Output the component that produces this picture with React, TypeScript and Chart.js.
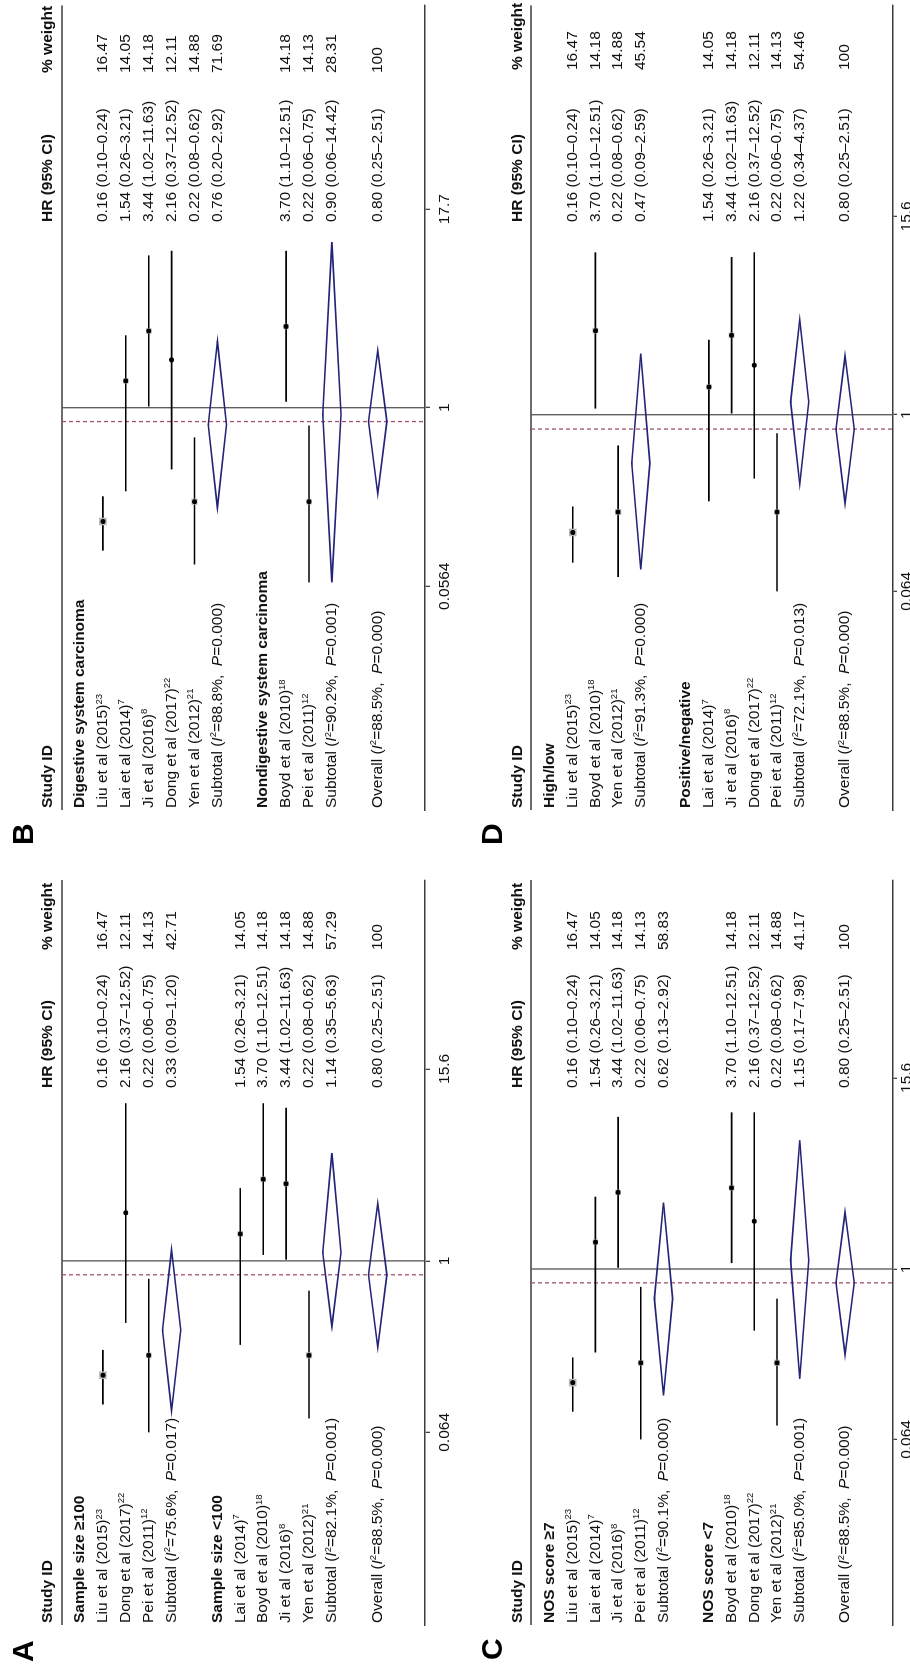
import React, { useEffect, useRef } from 'react';
import { Chart, registerables } from 'chart.js';

Chart.register(...registerables);

const FONT = '"Liberation Sans", Arial, Helvetica, sans-serif';
const FS = 15.5;
const REG = `${FS}px ${FONT}`;
const BOLD = `bold ${FS}px ${FONT}`;
const ITAL = `italic ${FS}px ${FONT}`;
const SUP = `9.5px ${FONT}`;

// ---------------- Panel A: sample size ----------------
const A_kind = ['h', 's', 's', 's', 't', 'b', 'h', 's', 's', 's', 's', 't', 'b', 'o'];
const A_label = ['Sample size ≥100', 'Liu et al (2015)', 'Dong et al (2017)', 'Pei et al (2011)', 'Subtotal', '', 'Sample size <100', 'Lai et al (2014)', 'Boyd et al (2010)', 'Ji et al (2016)', 'Yen et al (2012)', 'Subtotal', '', 'Overall'];
const A_ref = ['', '23', '22', '12', '', '', '', '7', '18', '8', '21', '', '', ''];
const A_hr = [null, 0.16, 2.16, 0.22, 0.33, null, null, 1.54, 3.70, 3.44, 0.22, 1.14, null, 0.80];
const A_lo = [null, 0.10, 0.37, 0.06, 0.09, null, null, 0.26, 1.10, 1.02, 0.08, 0.35, null, 0.25];
const A_hi = [null, 0.24, 12.52, 0.75, 1.20, null, null, 3.21, 12.51, 11.63, 0.62, 5.63, null, 2.51];
const A_wt = [null, 16.47, 12.11, 14.13, 42.71, null, null, 14.05, 14.18, 14.18, 14.88, 57.29, null, 100];
const A_i2 = [null, null, null, null, '75.6', null, null, null, null, null, null, '82.1', null, '88.5'];
const A_p = [null, null, null, null, '0.017', null, null, null, null, null, null, '0.001', null, '0.000'];
const A_tickAt = [0.064, 1, 21.7];
const A_tickLabel = ['0.064', '1', '15.6'];

// ---------------- Panel B: cancer type ----------------
const B_kind = ['h', 's', 's', 's', 's', 's', 't', 'b', 'h', 's', 's', 't', 'b', 'o'];
const B_label = ['Digestive system carcinoma', 'Liu et al (2015)', 'Lai et al (2014)', 'Ji et al (2016)', 'Dong et al (2017)', 'Yen et al (2012)', 'Subtotal', '', 'Nondigestive system carcinoma', 'Boyd et al (2010)', 'Pei et al (2011)', 'Subtotal', '', 'Overall'];
const B_ref = ['', '23', '7', '8', '22', '21', '', '', '', '18', '12', '', '', ''];
const B_hr = [null, 0.16, 1.54, 3.44, 2.16, 0.22, 0.76, null, null, 3.70, 0.22, 0.90, null, 0.80];
const B_lo = [null, 0.10, 0.26, 1.02, 0.37, 0.08, 0.20, null, null, 1.10, 0.06, 0.06, null, 0.25];
const B_hi = [null, 0.24, 3.21, 11.63, 12.52, 0.62, 2.92, null, null, 12.51, 0.75, 14.42, null, 2.51];
const B_wt = [null, 16.47, 14.05, 14.18, 12.11, 14.88, 71.69, null, null, 14.18, 14.13, 28.31, null, 100];
const B_i2 = [null, null, null, null, null, null, '88.8', null, null, null, null, '90.2', null, '88.5'];
const B_p = [null, null, null, null, null, null, '0.000', null, null, null, null, '0.001', null, '0.000'];
const B_tickAt = [0.0564, 1, 24.5];
const B_tickLabel = ['0.0564', '1', '17.7'];

// ---------------- Panel C: NOS score ----------------
const C_kind = ['h', 's', 's', 's', 's', 't', 'b', 'h', 's', 's', 's', 't', 'b', 'o'];
const C_label = ['NOS score ≥7', 'Liu et al (2015)', 'Lai et al (2014)', 'Ji et al (2016)', 'Pei et al (2011)', 'Subtotal', '', 'NOS score <7', 'Boyd et al (2010)', 'Dong et al (2017)', 'Yen et al (2012)', 'Subtotal', '', 'Overall'];
const C_ref = ['', '23', '7', '8', '12', '', '', '', '18', '22', '21', '', '', ''];
const C_hr = [null, 0.16, 1.54, 3.44, 0.22, 0.62, null, null, 3.70, 2.16, 0.22, 1.15, null, 0.80];
const C_lo = [null, 0.10, 0.26, 1.02, 0.06, 0.13, null, null, 1.10, 0.37, 0.08, 0.17, null, 0.25];
const C_hi = [null, 0.24, 3.21, 11.63, 0.75, 2.92, null, null, 12.51, 12.52, 0.62, 7.98, null, 2.51];
const C_wt = [null, 16.47, 14.05, 14.18, 14.13, 58.83, null, null, 14.18, 12.11, 14.88, 41.17, null, 100];
const C_i2 = [null, null, null, null, null, '90.1', null, null, null, null, null, '85.0', null, '88.5'];
const C_p = [null, null, null, null, null, '0.000', null, null, null, null, null, '0.001', null, '0.000'];
const C_tickAt = [0.064, 1, 21.8];
const C_tickLabel = ['0.064', '1', '15.6'];

// ---------------- Panel D: expression cut-off ----------------
const D_kind = ['h', 's', 's', 's', 't', 'b', 'h', 's', 's', 's', 's', 't', 'b', 'o'];
const D_label = ['High/low', 'Liu et al (2015)', 'Boyd et al (2010)', 'Yen et al (2012)', 'Subtotal', '', 'Positive/negative', 'Lai et al (2014)', 'Ji et al (2016)', 'Dong et al (2017)', 'Pei et al (2011)', 'Subtotal', '', 'Overall'];
const D_ref = ['', '23', '18', '21', '', '', '', '7', '8', '22', '12', '', '', ''];
const D_hr = [null, 0.16, 3.70, 0.22, 0.47, null, null, 1.54, 3.44, 2.16, 0.22, 1.22, null, 0.80];
const D_lo = [null, 0.10, 1.10, 0.08, 0.09, null, null, 0.26, 1.02, 0.37, 0.06, 0.34, null, 0.25];
const D_hi = [null, 0.24, 12.51, 0.62, 2.59, null, null, 3.21, 11.63, 12.52, 0.75, 4.37, null, 2.51];
const D_wt = [null, 16.47, 14.18, 14.88, 45.54, null, null, 14.05, 14.18, 12.11, 14.13, 54.46, null, 100];
const D_i2 = [null, null, null, null, '91.3', null, null, null, null, null, null, '72.1', null, '88.5'];
const D_p = [null, null, null, null, '0.000', null, null, null, null, null, null, '0.013', null, '0.000'];
const D_tickAt = [0.064, 1, 21.9];
const D_tickLabel = ['0.064', '1', '15.6'];

type PanelData = {
  kind: string[]; label: string[]; ref: string[];
  hr: (number | null)[]; lo: (number | null)[]; hi: (number | null)[]; wt: (number | null)[];
  i2: (string | null)[]; p: (string | null)[]; tickAt: number[]; tickLabel: string[];
};

type PanelCfg = {
  letter: string; d: PanelData;
  u0: number; v0: number; w: number; h: number;
  left: number; right: number; top: number; axis: number;
  xMin: number; xMax: number; yMin: number; yMax: number;
  labelX: number; hrX: number; wtX: number; letterX: number;
  tickLen: number; tickPad: number;
};

const PANELS: PanelCfg[] = [
  {
    letter: 'A',
    d: { kind: A_kind, label: A_label, ref: A_ref, hr: A_hr, lo: A_lo, hi: A_hi, wt: A_wt, i2: A_i2, p: A_p, tickAt: A_tickAt, tickLabel: A_tickLabel },
    u0: 0, v0: 0, w: 800, h: 455, left: 40, right: 785, top: 62, axis: 425,
    xMin: 0.00292, xMax: 447.7, yMin: -0.786, yMax: 15.066,
    labelX: 42, hrX: 577, wtX: 715, letterX: 3, tickLen: 5, tickPad: 5,
  },
  {
    letter: 'B',
    d: { kind: B_kind, label: B_label, ref: B_ref, hr: B_hr, lo: B_lo, hi: B_hi, wt: B_wt, i2: B_i2, p: B_p, tickAt: B_tickAt, tickLabel: B_tickLabel },
    u0: 800, v0: 0, w: 865, h: 455, left: 55, right: 860, top: 62, axis: 425,
    xMin: 0.001534, xMax: 652, yMin: -0.786, yMax: 15.066,
    labelX: 57, hrX: 643, wtX: 792, letterX: 20, tickLen: 5, tickPad: 5,
  },
  {
    letter: 'C',
    d: { kind: C_kind, label: C_label, ref: C_ref, hr: C_hr, lo: C_lo, hi: C_hi, wt: C_wt, i2: C_i2, p: C_p, tickAt: C_tickAt, tickLabel: C_tickLabel },
    u0: 0, v0: 469, w: 800, h: 441, left: 40, right: 785, top: 62, axis: 424,
    xMin: 0.003208, xMax: 530.6, yMin: -0.837, yMax: 15.11,
    labelX: 42, hrX: 577, wtX: 715, letterX: 5, tickLen: 4, tickPad: 0,
  },
  {
    letter: 'D',
    d: { kind: D_kind, label: D_label, ref: D_ref, hr: D_hr, lo: D_lo, hi: D_hi, wt: D_wt, i2: D_i2, p: D_p, tickAt: D_tickAt, tickLabel: D_tickLabel },
    u0: 800, v0: 469, w: 865, h: 441, left: 55, right: 860, top: 62, axis: 424,
    xMin: 0.002132, xMax: 583.6, yMin: -0.837, yMax: 15.11,
    labelX: 57, hrX: 643, wtX: 795, letterX: 20, tickLen: 4, tickPad: 0,
  },
];

function drawRuns(ctx: CanvasRenderingContext2D, x: number, y: number, parts: [string, string, number][]) {
  let cx = x;
  for (const [t, f, dy] of parts) {
    ctx.font = f;
    ctx.fillText(t, cx, y + dy);
    cx += ctx.measureText(t).width;
  }
}

function boxRadius(w: number) {
  const side = Math.max(0, (w - 8) * 0.9);
  return side / Math.SQRT2;
}

function Panel({ p }: { p: PanelCfg }) {
  const ref = useRef<HTMLCanvasElement>(null);

  useEffect(() => {
    const canvas = ref.current;
    if (!canvas) return;
    const d = p.d;
    const overall = d.hr[d.kind.indexOf('o')] as number;

    const boxes: any[] = [];
    const dots: any[] = [];
    d.kind.forEach((k, i) => {
      if (k === 's') {
        boxes.push({ x: d.hr[i], y: i, w: d.wt[i] });
        dots.push({ x: d.hr[i], y: i });
      }
    });

    const plugin = {
      id: 'forest' + p.letter,
      beforeDatasetsDraw(chart: any) {
        const { ctx, chartArea: a } = chart;
        const x = chart.scales.x;
        const y = chart.scales.y;
        const seg = (x0: number, y0: number, x1: number, y1: number) => {
          ctx.beginPath(); ctx.moveTo(x0, y0); ctx.lineTo(x1, y1); ctx.stroke();
        };
        ctx.save();
        ctx.strokeStyle = '#3c3c3c'; ctx.lineWidth = 1.5;
        seg(a.left, a.top, a.right, a.top);
        const x1 = x.getPixelForValue(1);
        ctx.strokeStyle = '#555'; ctx.lineWidth = 1.3;
        seg(x1, a.top, x1, a.bottom);
        const xo = x.getPixelForValue(overall);
        ctx.setLineDash([4, 3]); ctx.strokeStyle = '#a3536a'; ctx.lineWidth = 1.3;
        seg(xo, a.top, xo, a.bottom);
        ctx.setLineDash([]);
        d.kind.forEach((k, i) => {
          const py = y.getPixelForValue(i);
          if (k === 's') {
            ctx.strokeStyle = '#000'; ctx.lineWidth = 1.6;
            const lo = Math.max(d.lo[i] as number, d.tickAt[0]);
            seg(x.getPixelForValue(lo), py, x.getPixelForValue(d.hi[i]), py);
          } else if (k === 't' || k === 'o') {
            const hh = Math.abs(y.getPixelForValue(i + 0.4) - py);
            const xl = x.getPixelForValue(d.lo[i]);
            const xm = x.getPixelForValue(d.hr[i]);
            const xr = x.getPixelForValue(d.hi[i]);
            ctx.strokeStyle = '#232378'; ctx.lineWidth = 1.6;
            ctx.beginPath();
            ctx.moveTo(xl, py); ctx.lineTo(xm, py - hh); ctx.lineTo(xr, py); ctx.lineTo(xm, py + hh);
            ctx.closePath(); ctx.stroke();
          }
        });
        ctx.restore();
      },
      afterDraw(chart: any) {
        const { ctx } = chart;
        const y = chart.scales.y;
        ctx.save();
        ctx.fillStyle = '#111'; ctx.textAlign = 'left'; ctx.textBaseline = 'middle';
        const hy = y.getPixelForValue(-1.43);
        ctx.font = BOLD;
        ctx.fillText('Study ID', p.labelX, hy);
        ctx.fillText('HR (95% CI)', p.hrX, hy);
        ctx.fillText('% weight', p.wtX, hy);
        d.kind.forEach((k, i) => {
          const py = y.getPixelForValue(i);
          if (k === 'h') {
            ctx.font = BOLD; ctx.fillText(d.label[i], p.labelX, py);
          } else if (k === 's') {
            drawRuns(ctx, p.labelX, py, [[d.label[i], REG, 0], [d.ref[i], SUP, -4]]);
          } else if (k === 't' || k === 'o') {
            drawRuns(ctx, p.labelX, py, [
              [d.label[i] + ' (', REG, 0], ['I', ITAL, 0], ['2', SUP, -4],
              ['=' + d.i2[i] + '%,  ', REG, 0], ['P', ITAL, 0], ['=' + d.p[i] + ')', REG, 0],
            ]);
          }
          if (d.hr[i] != null) {
            ctx.font = REG;
            const hr = d.hr[i] as number, lo = d.lo[i] as number, hi = d.hi[i] as number, wt = d.wt[i] as number;
            ctx.fillText(`${hr.toFixed(2)} (${lo.toFixed(2)}–${hi.toFixed(2)})`, p.hrX, py);
            ctx.fillText(wt === 100 ? '100' : wt.toFixed(2), p.wtX, py);
          }
        });
        ctx.font = `bold 30px ${FONT}`; ctx.textBaseline = 'alphabetic'; ctx.fillStyle = '#000';
        ctx.fillText(p.letter, p.letterX, 33);
        ctx.restore();
      },
    };

    const chart = new Chart(canvas, {
      type: 'scatter',
      data: {
        datasets: [
          {
            data: dots,
            pointStyle: 'circle',
            pointRadius: 2.5,
            backgroundColor: '#000',
            borderWidth: 0,
            order: 0,
          } as any,
          {
            data: boxes,
            pointStyle: 'rect',
            pointRadius: (c: any) => boxRadius(c.raw ? c.raw.w : 14),
            backgroundColor: '#b8b8b8',
            borderWidth: 0,
            order: 1,
          } as any,
        ],
      },
      options: {
        responsive: false,
        animation: false,
        devicePixelRatio: 1,
        events: [],
        layout: { padding: { left: p.left, right: p.w - p.right, top: p.top, bottom: 0 } },
        plugins: { legend: { display: false }, tooltip: { enabled: false } },
        scales: {
          x: {
            type: 'logarithmic',
            min: p.xMin,
            max: p.xMax,
            bounds: 'data',
            position: 'bottom',
            afterBuildTicks: (s: any) => { s.ticks = d.tickAt.map((v) => ({ value: v })); },
            afterFit: (s: any) => { s.height = p.h - p.axis; },
            grid: { drawOnChartArea: false, drawTicks: true, tickLength: p.tickLen, color: '#444', lineWidth: 1.3 },
            border: { display: true, color: '#3c3c3c', width: 1.5 },
            ticks: {
              autoSkip: false, maxRotation: 0, minRotation: 0, padding: p.tickPad, color: '#111',
              font: { family: FONT, size: FS },
              callback: (_v: any, i: number) => d.tickLabel[i],
            },
          } as any,
          y: { type: 'linear', reverse: true, min: p.yMin, max: p.yMax, display: false },
        },
      },
      plugins: [plugin],
    });
    return () => chart.destroy();
  }, [p]);

  return (
    <canvas
      ref={ref}
      width={p.w}
      height={p.h}
      style={{ position: 'absolute', left: p.u0, top: p.v0, width: p.w, height: p.h, display: 'block' }}
    />
  );
}

export default function App() {
  return (
    <div style={{ position: 'absolute', left: 0, top: 0, width: 910, height: 1665, overflow: 'hidden', background: '#fff' }}>
      <div
        style={{
          position: 'absolute', left: 0, top: 0, width: 1665, height: 910,
          transformOrigin: '0 0', transform: 'translate(0px, 1665px) rotate(-90deg)',
        }}
      >
        {PANELS.map((p) => <Panel key={p.letter} p={p} />)}
      </div>
    </div>
  );
}
